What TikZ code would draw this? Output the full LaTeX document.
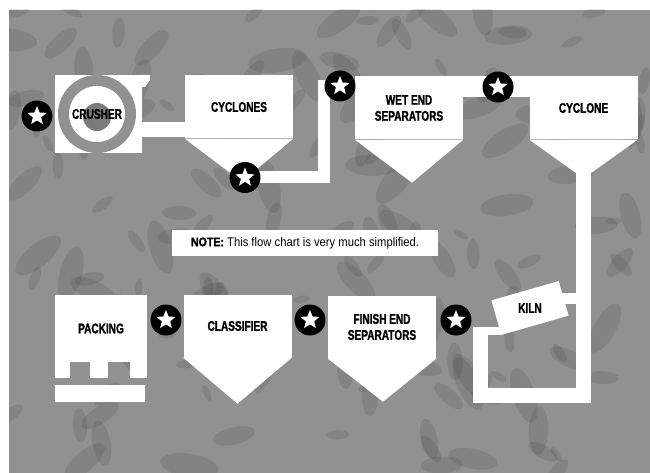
\documentclass[tikz,border=0pt]{standalone}
\usepackage{fontspec}
\newfontfamily\labelfont{Liberation Sans}[UprightFont={* Bold}, FakeStretch=0.72, FakeBold=1.2]
\newfontfamily\notefont{Liberation Sans}[FakeStretch=0.9]
\newfontfamily\notebold{Liberation Sans}[UprightFont={* Bold}, FakeStretch=0.85, FakeBold=1.5]
\usetikzlibrary{positioning, shapes.geometric, calc}
\definecolor{backgray}{HTML}{919191}

\begin{document}
\begin{tikzpicture}[
  x=1pt, y=-1pt,
  unitbox/.style={rectangle, fill=white, inner sep=0pt,
                  minimum width=108pt, minimum height=63pt,
                  align=center, font=\labelfont\fontsize{14}{16}\selectfont},
  plainbox/.style={rectangle, fill=white, inner sep=0pt},
  unitlabel/.style={font=\labelfont\fontsize{14}{16}\selectfont, inner sep=0pt},
  starmark/.style={circle, fill=black, minimum size=31pt, inner sep=0pt,
                   path picture={\node[star, star points=5, star point ratio=2.3,
                                       fill=white, minimum size=20pt, inner sep=0pt]
                                 at (path picture bounding box.center) {};}},
  pipe/.style={draw=white, line width=#1},
  pipe/.default=15pt
]

% -------- BACKGROUND --------
\useasboundingbox (0,0) rectangle (650,473);
\fill[backgray] (9,10) rectangle (650,473);
\begin{scope}
  \clip (9,10) rectangle (650,473);
  \pgfmathsetseed{11}
  \foreach \k in {1,...,160}{
    \pgfmathsetmacro\bx{9+641*rnd}
    \pgfmathsetmacro\by{10+463*rnd}
    \pgfmathsetmacro\br{8+22*rnd}
    \pgfmathsetmacro\ba{180*rnd}
    \fill[black, opacity=0.09, rotate around={\ba:(\bx,\by)}] (\bx,\by) ellipse ({\br} and {0.4*\br});
  }
\end{scope}

% -------- STAR POSITIONS --------
\coordinate (pcrush) at (37,116);
\coordinate (pcyc) at (245,177.5);
\coordinate (pwet) at (340,86);
\coordinate (pcyclone) at (498,87);
\coordinate (ppack) at (166,320);
\coordinate (pclass) at (310,320);
\coordinate (pfin) at (456,320);

% -------- TOP ROW --------
\node[plainbox, minimum width=87pt, minimum height=78pt] (crushbox) at (98.5,114) {};
\fill[white] (crushbox.north east) -- ++(8,0) -- ++(0,5) -- ++(-5,7) -- ++(-3,0) -- cycle;
\fill[backgray] (97,114) circle (39);
\fill[white] (97,114) circle (28);
\fill[backgray!85!black] (97,117) circle (14);
\node[unitlabel] (crusher) at (97,114) {CRUSHER};

\node[unitbox] (cyclones) at (239,107) {CYCLONES};
\fill[white] (cyclones.south west) -- (cyclones.south east) -- ($(cyclones.south)+(3,43)$) -- cycle;

\node[unitbox] (wetsep) at (409,108) {WET END\\SEPARATORS};
\fill[white] (wetsep.south west) -- (wetsep.south east) -- ($(wetsep.south)+(3,43)$) -- cycle;

\node[unitbox] (cyclone) at (583.5,108) {CYCLONE};
\fill[white] (cyclone.south west) -- (cyclone.south east) -- ($(cyclone.south)+(8,33)$)
  -- ($(cyclone.south)+(-8,33)$) -- cycle;

% Tubos de ligação (parte de cima)
\draw[pipe] ($(crushbox.east)+(-1,15.5)$) -- ($(cyclones.west)+(1,22.5)$);
\draw[pipe=12pt] (pcyc) -- ++(78.5,0) |- (pwet);
\draw[pipe=21pt] ($(wetsep.north east)+(-1,10.5)$) -- ($(cyclone.north west)+(1,10.5)$);

% -------- KILN --------
\node[plainbox, minimum width=70pt, minimum height=36pt, rotate=16] (kiln) at (530,308) {};
\draw[pipe] ($(cyclone.south)+(0,30)$) |- ($(kiln.south west)+(-20.5,60)$)
  -- ($(kiln.south west)+(-20.5,-8)$);
\fill[white] ($(kiln.south west)+(-20.5,-8)$) rectangle (kiln.south west);
\fill[white] ($(kiln.east)+(-4,-5)$) rectangle ($(kiln.east)+(13,6)$);
\node[unitlabel] (kilnlabel) at (kiln.center) {KILN};

% -------- NOTE --------
\node[plainbox, minimum width=266pt, minimum height=26pt,
      font=\notefont\fontsize{12.5}{14}\selectfont] (note) at (305,243)
  {{\notebold NOTE:} This flow chart is very much simplified.};

% -------- BOTTOM ROW --------
\node[plainbox, minimum width=92pt, minimum height=67pt,
      font=\labelfont\fontsize{14}{16}\selectfont] (packing) at (101,328.5) {PACKING};
\fill[white] (packing.south west) rectangle ++(15,16);
\fill[white] ($(packing.south west)+(35,0)$) rectangle ++(18,16);
\fill[white] ($(packing.south west)+(75,0)$) rectangle ++(17,16);
\fill[white] ($(packing.south west)+(0,23)$) rectangle ++(90,17);

\node[unitbox] (classifier) at (237.5,326) {CLASSIFIER};
\fill[white] (classifier.south west) -- (classifier.south east) -- ($(classifier.south)+(0,46)$) -- cycle;

\node[unitbox] (finsep) at (382,327) {FINISH END\\SEPARATORS};
\fill[white] (finsep.south west) -- (finsep.south east) -- ($(finsep.south)+(1,43)$) -- cycle;

% -------- STARS --------
\node[starmark] (stcrush) at (pcrush) {};
\node[starmark] (stcyc) at (pcyc) {};
\node[starmark] (stwet) at (pwet) {};
\node[starmark] (stcyclone) at (pcyclone) {};
\node[starmark] (stpack) at (ppack) {};
\node[starmark] (stclass) at (pclass) {};
\node[starmark] (stfin) at (pfin) {};

\end{tikzpicture}
\end{document}
